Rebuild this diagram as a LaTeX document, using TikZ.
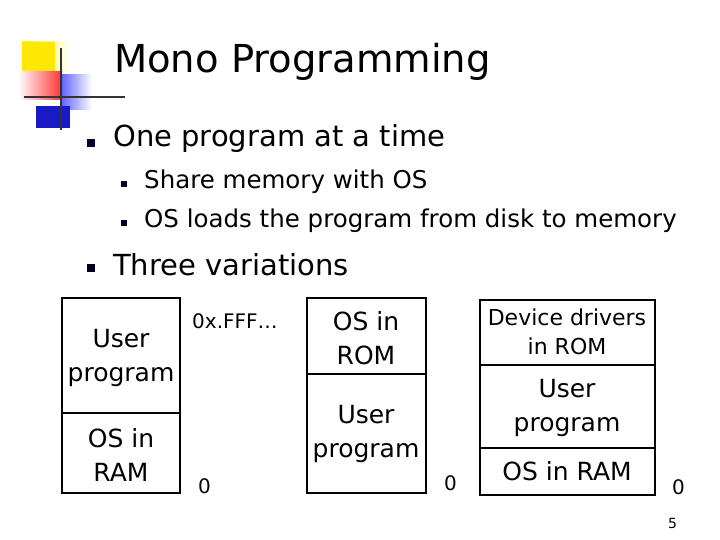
\documentclass[tikz,border=0pt]{standalone}
\usepackage{fontspec}
\setmainfont{DejaVu Sans}
\begin{document}
\begin{tikzpicture}[x=1pt,y=-1pt,
  txt/.style={inner sep=0pt,anchor=west,font=\fontsize{#1}{#1}\selectfont},
  ctr/.style={inner sep=0pt,align=center,font=\fontsize{25}{34}\selectfont},
  bul/.style={fill=black!85!blue,inner sep=0pt,minimum size=#1,draw=none},
  box/.style={draw=black,line width=1.6pt}]
\useasboundingbox (0,0) rectangle (720,540);
\fill[white] (0,0) rectangle (720,540);
% logo
\shade[left color=yellow!90!orange,right color=white] (22,42) rectangle (70,72);
\fill[yellow!90!orange] (22,42) rectangle (55,72);
\shade[left color=white,right color=red!80] (18,72) rectangle (62,100);
\shade[left color=blue!60,right color=white] (62,75) rectangle (92,110);
\fill[blue!75!black!90] (36,106) rectangle (70,128);
\draw[line width=2pt,black!80] (61,48) -- (61,130);
\draw[line width=2pt,black!80] (24,97) -- (125,97);
\node[txt=38.5] (title) at (114,62) {Mono Programming};
% bullets
\node[bul=8pt] (b1) at (91,143) {};
\node[txt=29] (t1) at (113,139) {One program at a time};
\node[bul=6pt] (b2) at (124,184) {};
\node[txt=24.5] (t2) at (144,182) {Share memory with OS};
\node[bul=6pt] (b3) at (124,223) {};
\node[txt=24.5] (t3) at (144,221) {OS loads the program from disk to memory};
\node[bul=8pt] (b4) at (91,268) {};
\node[txt=29] (t4) at (113,265) {Three variations};
% left box
\draw[box] (62,298) rectangle (180,493);
\draw[box] (62,413) -- (180,413);
\node[ctr] (l1) at (121,358) {User\\program};
\node[ctr] (l2) at (121,455) {OS in\\RAM};
\node[txt=20] (a1) at (192,321) {0x.FFF…};
\node[txt=20] (a2) at (198,486) {0};
% middle box
\draw[box] (307,298) rectangle (426,493);
\draw[box] (307,374) -- (426,374);
\node[ctr] (m1) at (366,338) {OS in\\ROM};
\node[ctr] (m2) at (366,434) {User\\program};
\node[txt=20] (a3) at (444,483) {0};
% right box
\draw[box] (480,300) rectangle (655,495);
\draw[box] (480,365) -- (655,365);
\draw[box] (480,448) -- (655,448);
\node[ctr,font=\fontsize{22}{29}\selectfont] (r1) at (567,332) {Device drivers\\in ROM};
\node[ctr] (r2) at (567,408) {User\\program};
\node[ctr] (r3) at (567,471) {OS in RAM};
\node[txt=20] (a4) at (672,487) {0};
\node[txt=14] (pg) at (668,523) {5};
\end{tikzpicture}
\end{document}
